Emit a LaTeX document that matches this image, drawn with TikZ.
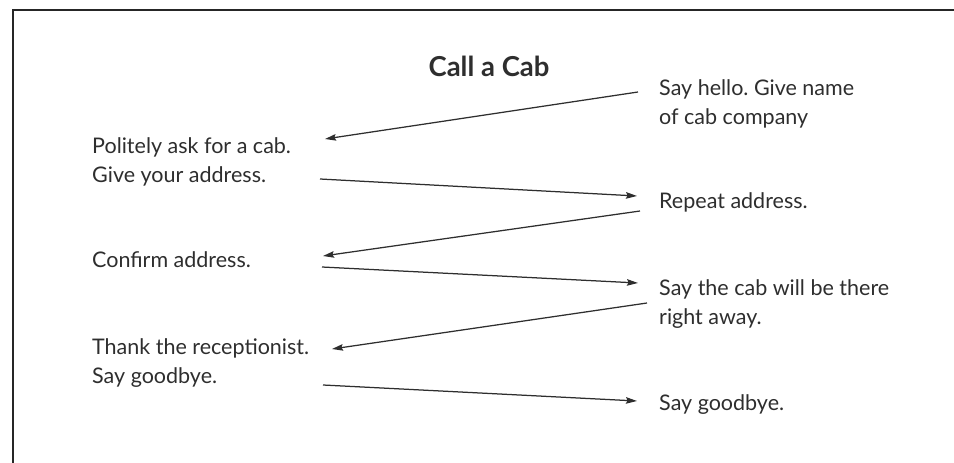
\documentclass[tikz,border=0pt]{standalone}
\usepackage{fontspec}
\setmainfont{Lato}
\usetikzlibrary{arrows.meta}
\definecolor{ink}{HTML}{2E2E2E}
\definecolor{framecol}{HTML}{262626}
\frenchspacing
\tikzset{
  say/.style={anchor=base west, inner sep=0pt, align=left, text=ink,
    font=\fontsize{21.5}{29}\selectfont},
  heading/.style={anchor=base, inner sep=0pt, text=ink,
    font=\fontsize{27.5}{32}\selectfont\bfseries},
  turn/.style={draw=ink, line width=1.25pt,
    -{Stealth[length=11pt,width=6.5pt,inset=1.5pt]}},
}
\begin{document}
\begin{tikzpicture}[x=1pt,y=-1pt]
  \useasboundingbox (0,0) rectangle (954,463);
  % frame: top and left edges only
  \draw[framecol, line width=2pt] (12.7,463) -- (12.7,10.3) -- (954,10.3);

  \node[heading] (title) at (489,76) {Call a Cab};

  % caller (left column); base anchor sits on the last line
  \node[say] (ask)     at (92,182) {Politely ask for a cab.\\Give your address.};
  \node[say] (confirm) at (92,267) {Confirm address.};
  \node[say] (thank)   at (92,383) {Thank the receptionist.\\Say goodbye.};

  % receptionist (right column)
  \node[say] (hello)  at (659,124) {Say hello. Give name\\of cab company};
  \node[say] (repeat) at (659,208) {Repeat address.};
  \node[say] (there)  at (659,324) {Say the cab will be there\\right away.};
  \node[say] (bye)    at (659,410) {Say goodbye.};

  % turns of the conversation
  \draw[turn] ([shift={(-21,-32)}]hello.base west) -- ([shift={(233,-43)}]ask.base west);
  \draw[turn] ([shift={(228,-3)}]ask.base west)    -- ([shift={(-22,-12)}]repeat.base west);
  \draw[turn] ([shift={(-19,3)}]repeat.base west)  -- ([shift={(231,-11)}]confirm.base west);
  \draw[turn] ([shift={(230,0)}]confirm.base west) -- ([shift={(-21,-41)}]there.base west);
  \draw[turn] ([shift={(-12,-21)}]there.base west) -- ([shift={(240,-34)}]thank.base west);
  \draw[turn] ([shift={(231,2)}]thank.base west)   -- ([shift={(-22,-9)}]bye.base west);
\end{tikzpicture}
\end{document}
